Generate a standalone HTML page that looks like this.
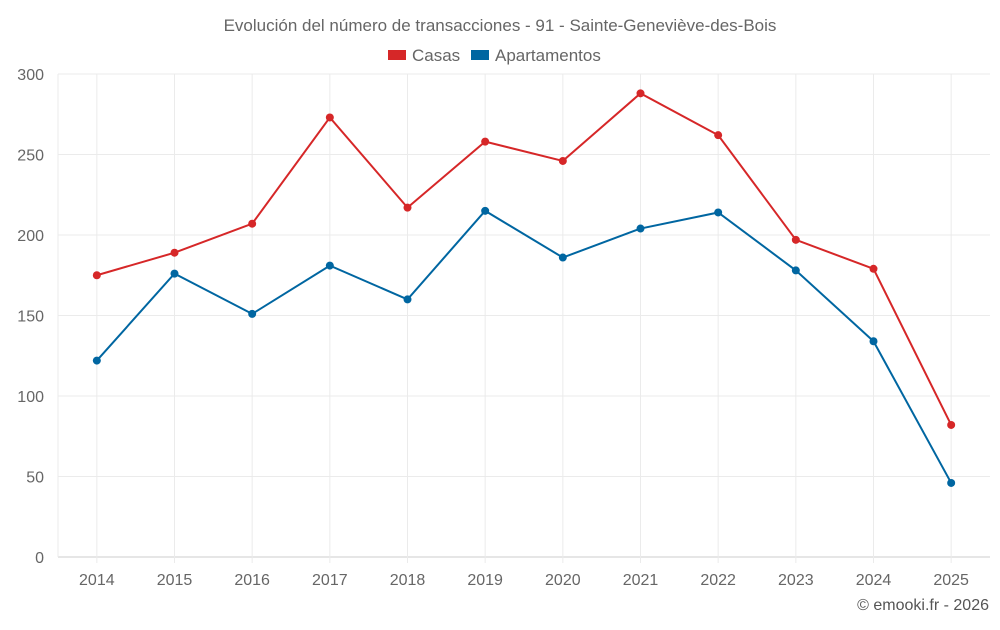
<!DOCTYPE html>
<html><head><meta charset="utf-8">
<style>
body{margin:0;background:#fff;font-family:"Liberation Sans",sans-serif;}
svg text{font-family:"Liberation Sans",sans-serif;}
</style></head>
<body>
<svg id="chart" width="1000" height="625"></svg>
<script>
const years = ["2014","2015","2016","2017","2018","2019","2020","2021","2022","2023","2024","2025"];
const casas = [175,189,207,273,217,258,246,288,262,197,179,82];
const apartamentos = [122,176,151,181,160,215,186,204,214,178,134,46];
const yTicks = [0,50,100,150,200,250,300];

const NS="http://www.w3.org/2000/svg";
const svg=document.getElementById('chart');
const L=58,R=990,T=74,B=557;
const yMax=300;
function y(v){return B-(v/yMax)*(B-T);}
const step=(R-L)/years.length;
function x(i){return L+step*(i+0.5);}
function el(tag,attrs,parent){const e=document.createElementNS(NS,tag);for(const k in attrs)e.setAttribute(k,attrs[k]);(parent||svg).appendChild(e);return e;}

const title=el('text',{x:500,y:31,'text-anchor':'middle','font-size':17,fill:'#666'});
title.textContent='Evolución del número de transacciones - 91 - Sainte-Geneviève-des-Bois';



// legend
const lg=el('g',{});


const l1=el('rect',{x:388,y:50,width:18,height:10,fill:'#d62728'},lg);


const t1=el('text',{x:412,y:61,'font-size':17,fill:'#666'},lg);t1.textContent='Casas';


const l2=el('rect',{x:471,y:50,width:18,height:10,fill:'#0066a1'},lg);


const t2=el('text',{x:495,y:61,'font-size':17,fill:'#666'},lg);t2.textContent='Apartamentos';



// grid
yTicks.forEach(v=>{
  const g=el('line',{x1:L,x2:R,y1:y(v),y2:y(v),stroke:v===0?'#ccc':'#ebebeb'});
  
  
  const t=el('text',{x:L-14,y:y(v)+6,'text-anchor':'end','font-size':16,fill:'#666'});
  t.textContent=v;
  
  
});
years.forEach((yr,i)=>{
  const g=el('line',{x1:x(i),x2:x(i),y1:T,y2:B+6,stroke:'#ebebeb'});
  
  
  const t=el('text',{x:x(i),y:585,'text-anchor':'middle','font-size':16,fill:'#666'});
  t.textContent=yr;
  
  
});
const ax=el('line',{x1:L,x2:L,y1:T,y2:B,stroke:'#ebebeb'});



function series(vals,color,name){
  const p=el('polyline',{points:vals.map((v,i)=>x(i)+','+y(v)).join(' '),fill:'none',stroke:color,'stroke-width':2});
  
  
  vals.forEach((v,i)=>{
    const c=el('circle',{cx:x(i),cy:y(v),r:4,fill:color});
    
    
  });
}
series(casas,'#d62728','casas');
series(apartamentos,'#0066a1','apartamentos');

const cr=el('text',{x:989,y:610,'text-anchor':'end','font-size':16,fill:'#555'});
cr.textContent='© emooki.fr - 2026';


</script>
</body></html>
